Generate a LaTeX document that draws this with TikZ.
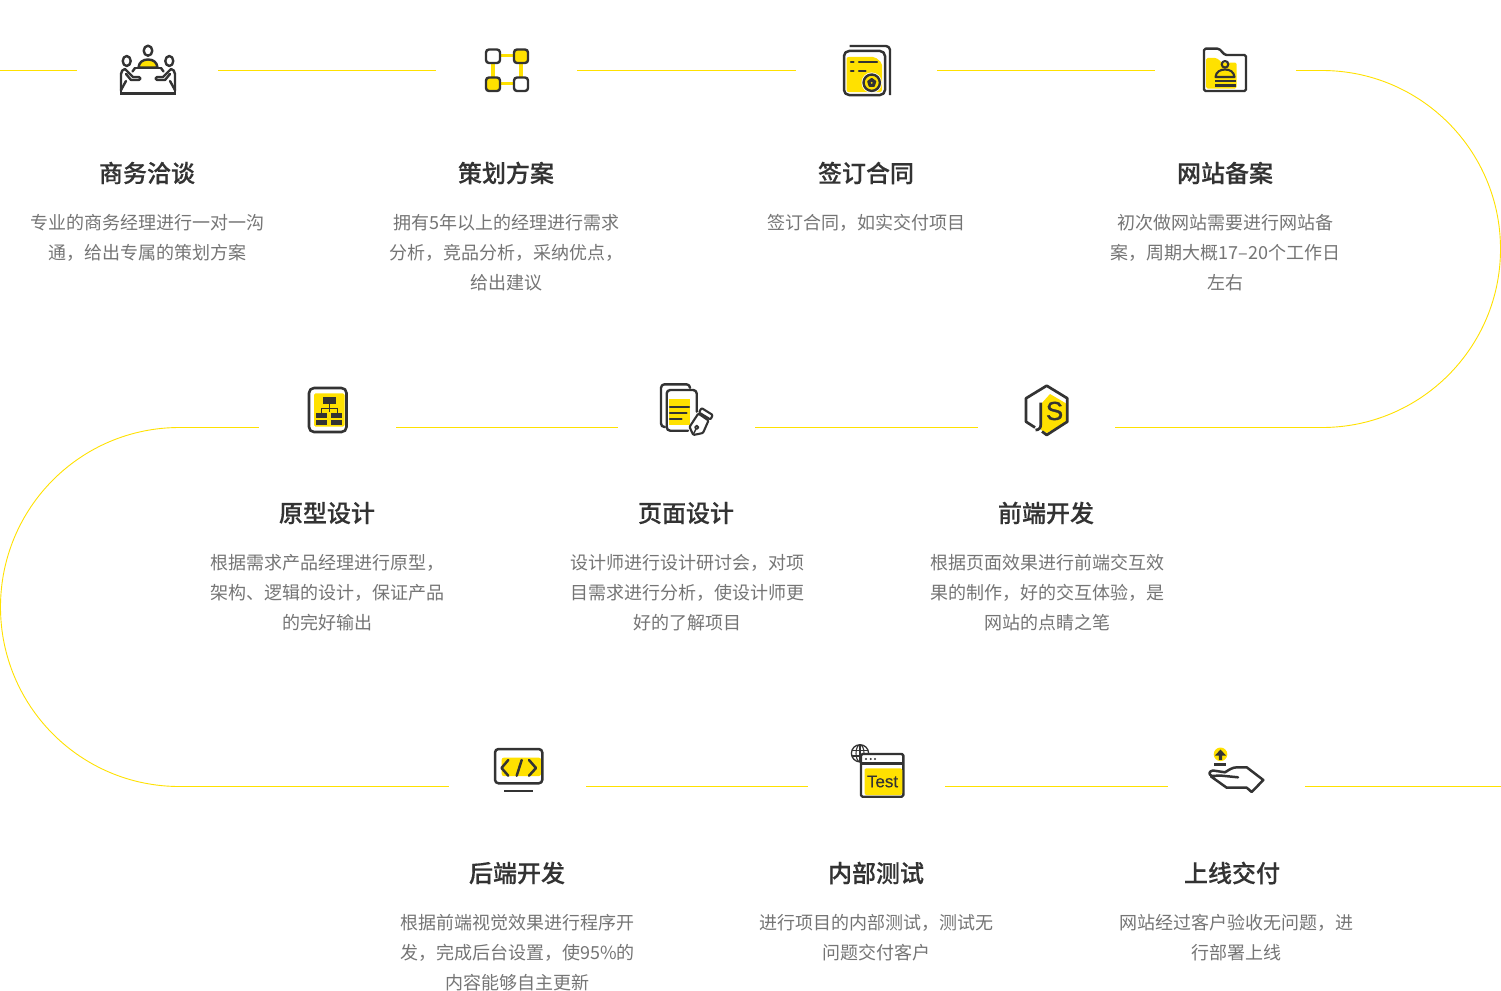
\documentclass[tikz,border=0pt]{standalone}
\usepackage{fontspec}
\setmainfont{Noto Sans CJK SC}
\newfontfamily\titlefont[FakeBold=0.35]{Noto Sans CJK SC Medium}
\newfontfamily\latinfont[FakeBold=0.25]{Liberation Sans}
\newfontfamily\jsfont[FakeBold=1.2]{Liberation Sans}
\definecolor{yl}{HTML}{FFE100}
\definecolor{ink}{HTML}{333333}
\definecolor{desc}{HTML}{757575}
\tikzset{
  slotwide/.style={inner sep=0pt,minimum width=141pt,minimum height=10pt},
  slot/.style={inner sep=0pt,minimum width=137pt,minimum height=10pt},
  route/.style={draw=yl,line width=0.9pt},
  il/.style={draw=ink,line width=2.4pt,line join=round,line cap=round},
  yf/.style={fill=yl,draw=none},
  ttl/.style={inner sep=0pt,anchor=center,text=ink,font=\titlefont\fontsize{24}{30}\selectfont},
  dsc/.style={inner sep=0pt,anchor=north,align=center,text=desc,font=\fontsize{18}{30}\selectfont}
}
\newcommand{\personside}{%
  \draw[il] (121,91) -- (121,74) .. controls (121,71) and (123,69.5) .. (125,69) -- (133,77) -- (139,77) .. controls (141,77) and (141,80) .. (139,80) -- (131,80) -- (126,74);
  \draw[il] (135,68) -- (132.5,71.5);
  \draw[il] (126,81) -- (121,90);
  \draw[il] (126.7,61) ellipse[x radius=4,y radius=5];
}
\begin{document}
\begin{tikzpicture}[x=1pt,y=-1pt]
\useasboundingbox (0,0) rectangle (1501,990);
\fill[white] (0,0) rectangle (1501,990);
% slots holding the icons: the route runs between them
\node[slotwide] (icon1) at (147.5,70.5) {};
\node[slotwide] (icon2) at (506.5,70.5) {};
\node[slotwide] (icon3) at (866.5,70.5) {};
\node[slotwide] (icon4) at (1225.5,70.5) {};
\node[slot] (icon5) at (327.5,427.5) {};
\node[slot] (icon6) at (686.5,427.5) {};
\node[slot] (icon7) at (1046.5,427.5) {};
\node[slot] (icon8) at (517.5,786.5) {};
\node[slot] (icon9) at (876.5,786.5) {};
\node[slot] (icon10) at (1236.5,786.5) {};
\coordinate (startfree) at (0,70.5);
\coordinate (endfree) at (1501,786.5);
\coordinate (rtop) at (1322,70.5);
\coordinate (rbot) at (1322,427.5);
\coordinate (ltop) at (179.5,427.5);
\coordinate (lbot) at (179.5,786.5);
% route
\draw[route] (startfree) -- (icon1.west);
\draw[route] (icon1.east) -- (icon2.west);
\draw[route] (icon2.east) -- (icon3.west);
\draw[route] (icon3.east) -- (icon4.west);
\draw[route] (icon4.east) -- (rtop) .. controls (1420.6,70.5) and (1500.5,150.4) .. (1500.5,249) .. controls (1500.5,347.6) and (1420.6,427.5) .. (rbot) -- (icon7.east);
\draw[route] (icon7.west) -- (icon6.east);
\draw[route] (icon6.west) -- (icon5.east);
\draw[route] (icon5.west) -- (ltop) .. controls (80.4,427.5) and (0.5,507.9) .. (0.5,607) .. controls (0.5,706.1) and (80.4,786.5) .. (lbot) -- (icon8.west);
\draw[route] (icon8.east) -- (icon9.west);
\draw[route] (icon9.east) -- (icon10.west);
\draw[route] (icon10.east) -- (endfree);
% icon 1
\draw[il,fill=yl] (138.5,67.5) .. controls (139,62) and (143,59.5) .. (148,59.5) .. controls (153,59.5) and (157,62) .. (157.5,67.5) -- cycle;
\draw[il] (148,50.7) ellipse[x radius=4.3,y radius=5];
\draw[il] (135,68) -- (161,68);
\draw[il,line cap=butt] (120,93.5) -- (176,93.5);
\draw[il] (121,90) -- (121,93);\draw[il] (175,90) -- (175,93);
\personside
\begin{scope}[xshift=296pt,xscale=-1]\personside\end{scope}
% icon 2
\draw[yl,line width=3.6pt] (492.7,55.7) -- (520.7,55.7) -- (520.7,83.3) -- (492.7,83.3) -- cycle;
\draw[il,fill=white,rounded corners=3pt] (486,49.5) rectangle (500,63);
\draw[il,fill=yl,rounded corners=3pt] (514,49.5) rectangle (528,63);
\draw[il,fill=yl,rounded corners=3pt] (486,77.5) rectangle (500,91);
\draw[il,fill=white,rounded corners=3pt] (514,77.5) rectangle (528,91);
% icon 3
\fill[yl,rounded corners=2pt] (846.5,57) -- (875,57) -- (882,63) -- (882,92) -- (846.5,92) -- cycle;
\draw[il,line width=2.5pt,rounded corners=5pt] (844,51) rectangle (885,95);
\draw[il,rounded corners=4pt,line cap=butt] (849.5,46) -- (890,46) -- (890,95);
\draw[il] (851,62) -- (853.5,62);\draw[il] (859,62) -- (877,62);
\draw[il] (851,70.7) -- (853.5,70.7);\draw[il] (859,70.7) -- (865.5,70.7);
\draw[white,line width=1.2pt,fill=yl] (871.7,82.7) circle[radius=9.6];
\draw[il] (871.7,82.7) circle[radius=8.2];
\draw[il,line width=1.6pt,fill=ink] (871.7,78.7) -- (875.5,81.5) -- (874,86) -- (869.4,86) -- (868,81.5) -- cycle;
\fill[yl] (871.7,82.8) circle[radius=1];
% icon 4
\fill[yl,rounded corners=1.5pt] (1206,58) -- (1216.7,58) -- (1222,62.7) -- (1236.7,62.7) -- (1236.7,88.5) -- (1206,88.5) -- cycle;
\draw[il,rounded corners=1.5pt] (1204,91) -- (1204,48.7) -- (1219,48.7) -- (1225,55) -- (1246,55) -- (1246,91) -- cycle;
\draw[il,line width=2.1pt] (1225,64.3) circle[radius=3.3];
\draw[il,line width=2.1pt] (1215.5,77) .. controls (1216,72) and (1220,69.5) .. (1225,69.5) .. controls (1230,69.5) and (1234,72) .. (1234.5,77) -- cycle;
\draw[il,line width=2.1pt,line cap=butt] (1215,81) -- (1235.5,81);
\draw[il,line width=2.1pt,line cap=butt] (1215,85.5) -- (1235.5,85.5);
% icon 5
\fill[yl,rounded corners=1.5pt] (314,393.3) rectangle (344.5,426.7);
\draw[il,line width=2.6pt,rounded corners=5pt] (309,388) rectangle (346.5,432);
\fill[ink] (322.7,397.3) rectangle (336,404);
\draw[ink,line width=1pt] (329.3,404) -- (329.3,412);
\draw[ink,line width=1pt] (321.5,413) -- (321.5,408.5) -- (337,408.5) -- (337,413);
\fill[ink] (315.7,413) rectangle (327.3,418.3);
\fill[ink] (331,413) rectangle (342.3,418.3);
\fill[ink] (315.7,420) rectangle (327.3,425);
\fill[ink] (331,420) rectangle (342.3,425);
% icon 6
\fill[yl] (669.3,399.3) rectangle (690,425);
\draw[il,rounded corners=3.5pt] (665,427) -- (661,427) -- (661,384.3) -- (690,384.3) -- (690,388);
\draw[il,rounded corners=3.5pt] (688,430.7) -- (666.7,430.7) -- (666.7,390) -- (696.7,390) -- (696.7,411.7);
\draw[ink,line width=2.2pt,line cap=round] (670,407.3) -- (689,407.3);
\draw[ink,line width=2.2pt,line cap=round] (670,413.3) -- (686.5,413.3);
\draw[ink,line width=2.2pt,line cap=round] (670,419) -- (681.5,419);
\draw[il,line width=2.1pt,rounded corners=1pt] (701.5,408) -- (712.7,415) -- (710.5,419.5) -- (699,412.5) -- cycle;
\draw[il,line width=2.1pt,fill=white,rounded corners=1pt] (698.3,413.5) -- (708.5,420.5) -- (703,433) -- (693.3,435) -- (689.5,427) -- cycle;
\draw[il,line width=1.7pt] (696.7,427.3) circle[radius=1.8];
\draw[il,line width=1.4pt] (696,429) -- (693.5,434);
% icon 7
\fill[yl] (1050,394) -- (1067,404) -- (1067,421.7) -- (1047,433) -- (1041,430) -- (1041,404) -- cycle;
\draw[il,line width=2.7pt,line cap=butt] (1042,431.5) -- (1046.7,435) -- (1067.3,421.7) -- (1067.3,398.3) -- (1046.7,385.7) -- (1026,398.3) -- (1026,421.7) -- (1035,427.5);
\draw[il,line width=2.7pt,line cap=butt] (1040.8,402.5) -- (1040.8,424) .. controls (1040.8,428) and (1039,430) .. (1035.5,430);
\node[inner sep=0pt,text=ink] (jsS) at (1054.5,411) {\jsfont\fontsize{26}{26}\selectfont S};
% icon 8
\fill[yl,rounded corners=2pt] (501.7,757.7) rectangle (541,776);
\draw[il,line width=2.5pt,rounded corners=3.5pt] (495,749) rectangle (542.3,783.3);
\draw[il,line width=2.5pt] (508.3,760) -- (501.5,768) -- (508.3,775.7);
\draw[il,line width=2.5pt] (529,760) -- (536,768) -- (529,775.7);
\draw[il,line width=2.5pt] (521.7,760) -- (516.7,775.7);
\draw[ink,line width=2.4pt] (504,790.7) -- (533.3,790.7);
% icon 9
\draw[ink,line width=1.3pt] (860,753.3) circle[radius=8.6];
\draw[ink,line width=1.1pt] (860,753.3) ellipse[x radius=4,y radius=8.6];
\draw[ink,line width=1.1pt] (860,744.7) -- (860,762);
\draw[ink,line width=1.1pt] (851.8,750.5) -- (868.2,750.5);
\draw[ink,line width=1.1pt] (851.8,756) -- (868.2,756);
\draw[il,fill=white,rounded corners=1.5pt] (861,754) rectangle (903.3,796.7);
\draw[ink,line width=2.2pt] (861,763.5) -- (903.3,763.5);
\fill[ink] (866,759) circle[radius=1.1];
\fill[ink] (870.7,759) circle[radius=1.1];
\fill[ink] (875,759) circle[radius=1.1];
\fill[yl,rounded corners=2pt] (864.5,768.3) rectangle (902.3,795);
\node[inner sep=0pt,text=ink] (testlabel) at (882.5,781.5) {\latinfont\fontsize{17}{17}\selectfont Test};
% icon 10
\fill[yl] (1220.5,754.3) circle[radius=6.8];
\fill[ink] (1220.5,749.5) -- (1226,755.5) -- (1222.2,755.5) -- (1222.2,759.8) -- (1218.8,759.8) -- (1218.8,755.5) -- (1215,755.5) -- cycle;
\draw[ink,line width=2.6pt] (1214.3,764.3) -- (1225.7,764.3);
\draw[il,line width=2.5pt] (1238,777.3) -- (1220,775.5) -- (1212,776) .. controls (1208.5,775) and (1208.5,771) .. (1213,770.5) -- (1225,772.3) .. controls (1229,770) and (1232,767.3) .. (1237,767.3) -- (1246.7,767.3) -- (1263.3,780) -- (1251.7,792) -- (1246.7,787.7) -- (1226.7,787.7) -- (1211,776.5);
% row 1 text
\node[ttl] (t1) at (147,173) {商务洽谈};
\node[ttl] (t2) at (506,173) {策划方案};
\node[ttl] (t3) at (866,173) {签订合同};
\node[ttl] (t4) at (1225,173) {网站备案};
\node[dsc] (d1) at (147.4,207.8) {\strut 专业的商务经理进行一对一沟\\\strut 通，给出专属的策划方案};
\node[dsc] (d2) at (506.2,207.8) {\strut 拥有5年以上的经理进行需求\\\strut 分析，竞品分析，采纳优点，\\\strut 给出建议};
\node[dsc] (d3) at (866.4,207.8) {\strut 签订合同，如实交付项目};
\node[dsc] (d4) at (1225.5,207.8) {\strut 初次做网站需要进行网站备\\\strut 案，周期大概17–20个工作日\\\strut 左右};
% row 2 text
\node[ttl] (t5) at (327,513) {原型设计};
\node[ttl] (t6) at (686,513) {页面设计};
\node[ttl] (t7) at (1046,513) {前端开发};
\node[dsc] (d5) at (327.4,547.8) {\strut 根据需求产品经理进行原型，\\\strut 架构、逻辑的设计，保证产品\\\strut 的完好输出};
\node[dsc] (d6) at (687,547.8) {\strut 设计师进行设计研讨会，对项\\\strut 目需求进行分析，使设计师更\\\strut 好的了解项目};
\node[dsc] (d7) at (1047,547.8) {\strut 根据页面效果进行前端交互效\\\strut 果的制作，好的交互体验，是\\\strut 网站的点睛之笔};
% row 3 text
\node[ttl] (t8) at (517,873) {后端开发};
\node[ttl] (t9) at (876,873) {内部测试};
\node[ttl] (t10) at (1232,873) {上线交付};
\node[dsc] (d8) at (517.6,907.8) {\strut 根据前端视觉效果进行程序开\\\strut 发，完成后台设置，使95\%的\\\strut 内容能够自主更新};
\node[dsc] (d9) at (876.4,907.8) {\strut 进行项目的内部测试，测试无\\\strut 问题交付客户};
\node[dsc] (d10) at (1236.4,907.8) {\strut 网站经过客户验收无问题，进\\\strut 行部署上线};
\end{tikzpicture}
\end{document}
